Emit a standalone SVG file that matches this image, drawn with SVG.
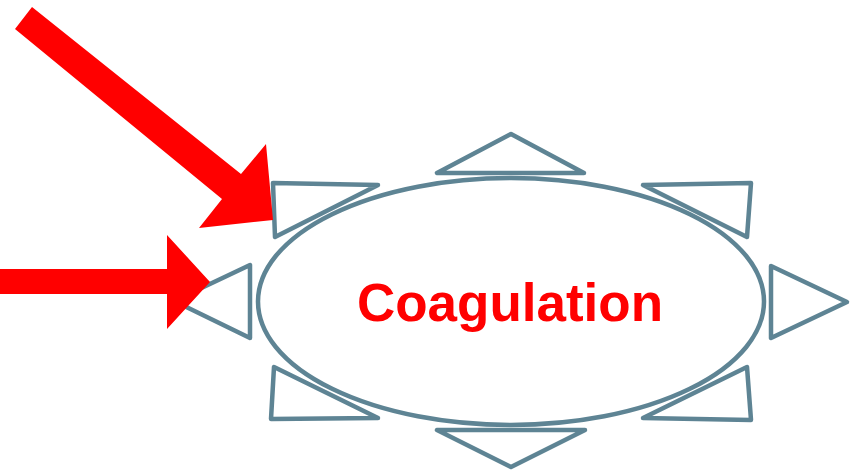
<svg xmlns="http://www.w3.org/2000/svg" width="858" height="472" viewBox="0 0 858 472">
<style>
.tri{fill:none;stroke:#5e8494;stroke-width:4.5;stroke-linejoin:round}
.ell{fill:none;stroke:#5e8494;stroke-width:4.5}
.arr{fill:#ff0000;stroke:none}
.lbl{font-family:"Liberation Sans",Arial,sans-serif;font-weight:bold;font-size:53px;fill:#ff0000;text-anchor:middle}
</style>
<rect width="858" height="472" fill="#ffffff"/>
<g id="coagulation">
<polygon class="tri" points="437,173 584,173 511,134"/>
<polygon class="tri" points="273,183 378,185 275,237"/>
<polygon class="tri" points="643,185 751,183 747,237"/>
<polygon class="tri" points="771,266 847,302 771,338"/>
<polygon class="tri" points="250,265 250,338 174,301"/>
<polygon class="tri" points="274,367 271,419 378,418"/>
<polygon class="tri" points="437,430 585,430 511,467"/>
<polygon class="tri" points="747,367 751,420 643,418"/>
<ellipse class="ell" cx="511" cy="301.5" rx="253" ry="123.5"/>
<text class="lbl" x="510" y="321">Coagulation</text>
</g>
<g id="connectors">
<polygon class="arr" points="32,7 241,174 266,144 273,220 199,228 222,199 15,29"/>
<polygon class="arr" points="0,269 167,269 167,235 210,282 167,329 167,294 0,294"/>
</g>
</svg>
